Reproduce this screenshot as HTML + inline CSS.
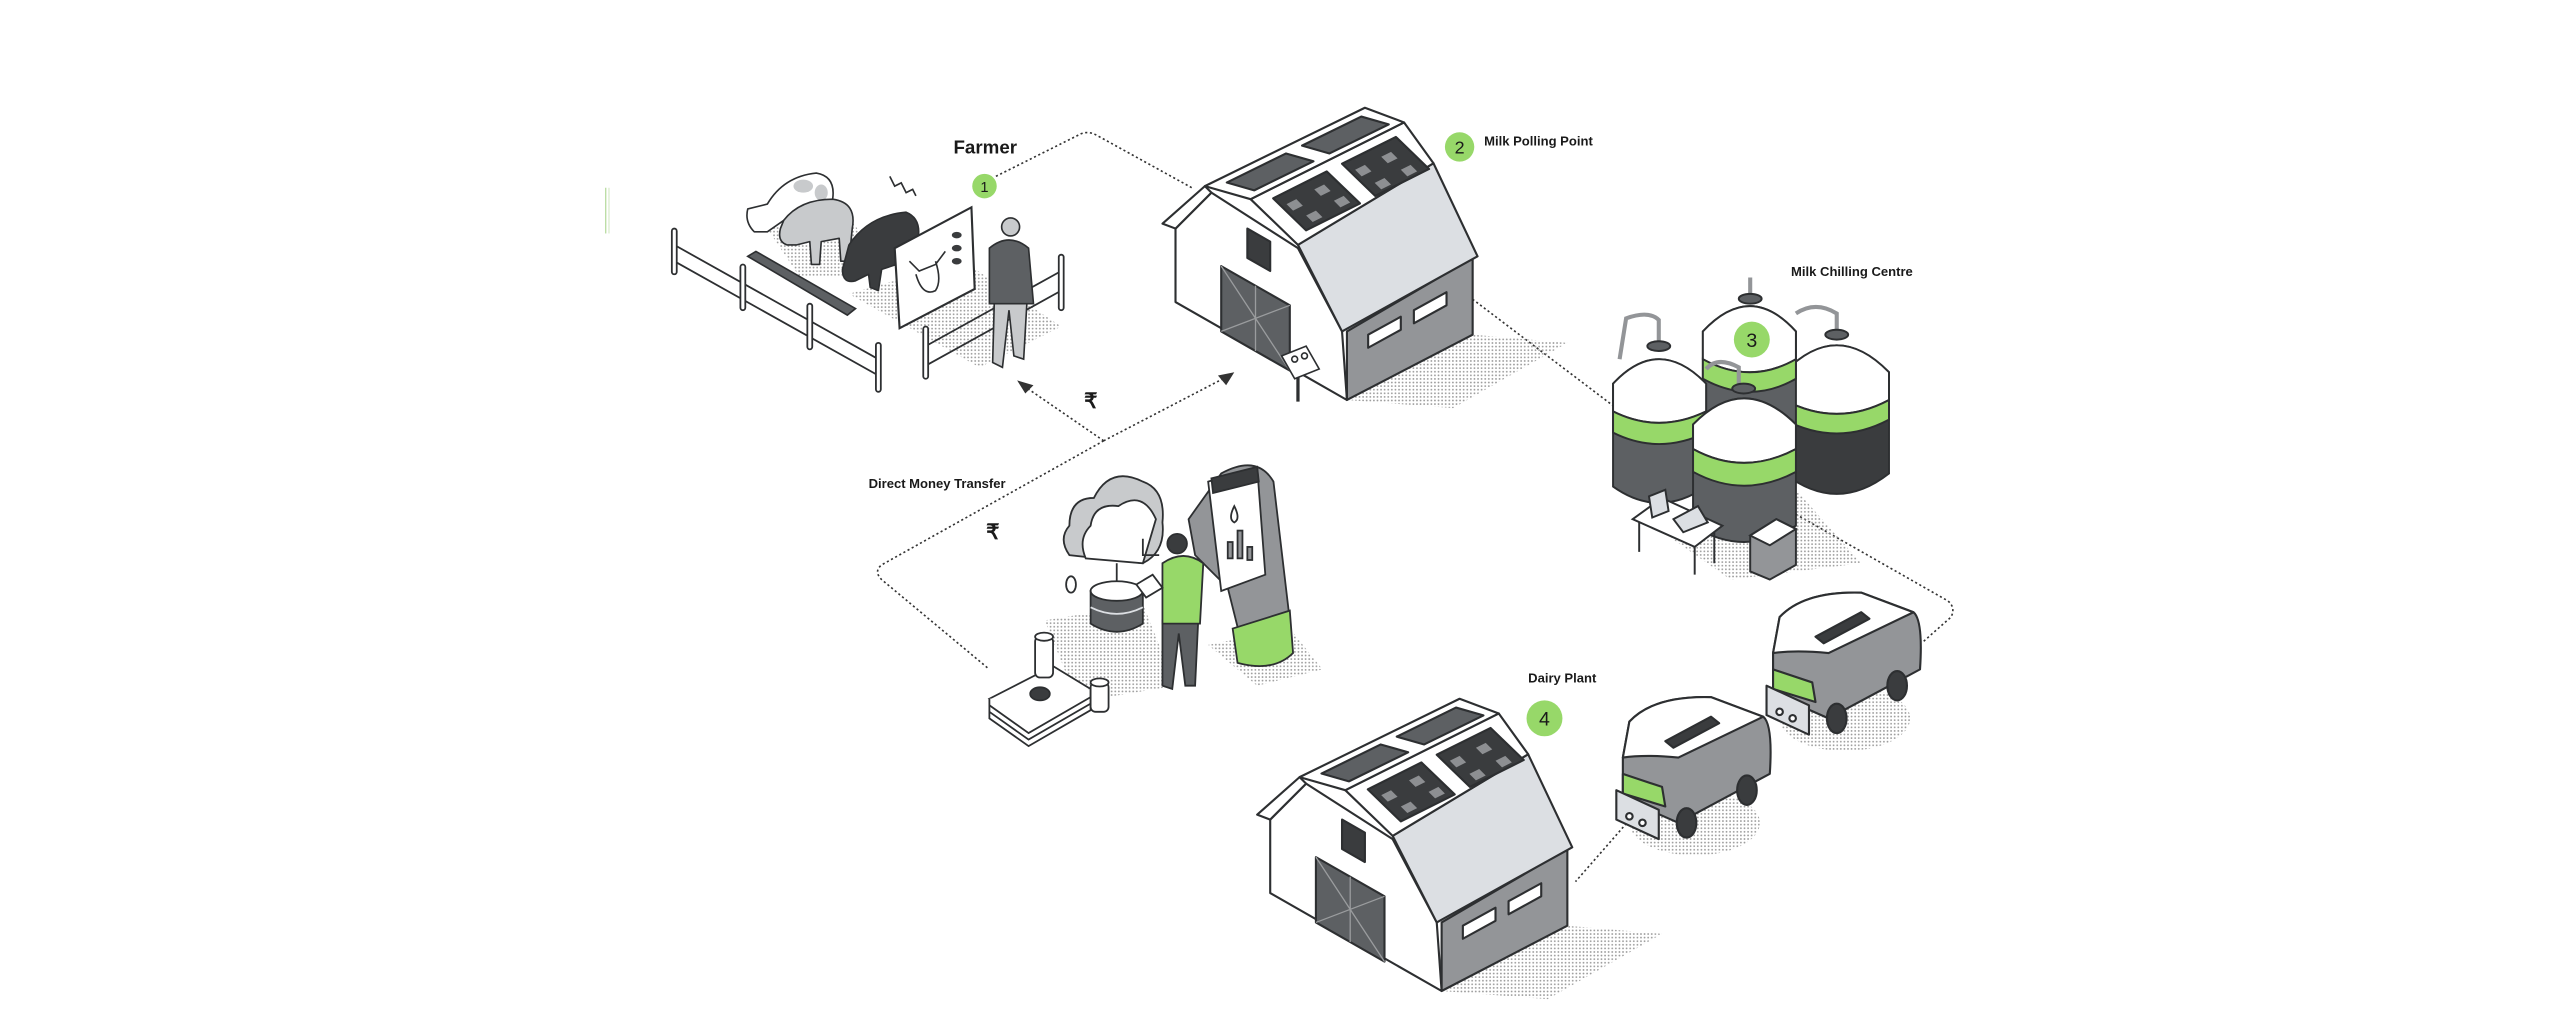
<!DOCTYPE html>
<html><head><meta charset="utf-8"><style>
html,body{margin:0;padding:0;background:#fff;width:2560px;height:1015px;overflow:hidden}
svg{display:block}
text{font-family:"Liberation Sans",sans-serif;fill:#1a1a1a}
</style></head><body>
<svg width="2560" height="1015" viewBox="0 0 1568 621.7" preserveAspectRatio="none" xmlns="http://www.w3.org/2000/svg">
<defs>
<pattern id="dots" width="2.2" height="2.2" patternUnits="userSpaceOnUse"><circle cx="1.1" cy="1.1" r="0.55" fill="#9a9a9a"/></pattern>
<g id="barn" stroke="#2d2f31" stroke-width="1.3" stroke-linejoin="round">
 <polygon points="825,245 902,205 960,210 890,250" fill="url(#dots)" stroke="none"/>
 <polygon points="720,140 742,118 795,152 822,203 825,245 720,185" fill="#fff"/>
 <polygon points="748,163 790,187 790,227 748,203" fill="#5d6063"/>
 <path d="M748,163 L790,227 M790,187 L748,203 M769,175 L769,215" stroke="#9a9c9e" stroke-width="0.8" fill="none"/>
 <polygon points="764,140 778,148 778,166 764,158" fill="#3a3c3e"/>
 <polygon points="825,203 902,158 902,205 825,245" fill="#939598"/>
 <polygon points="838,205 858,194 858,202 838,213" fill="#fff"/>
 <polygon points="866,190 886,179 886,187 866,198" fill="#fff"/>
 <polygon points="795,150 878,100 905,157 822,203" fill="#dcdfe3"/>
 <polygon points="766,122 860,75 878,100 795,150" fill="#fff"/>
 <polygon points="779.8,121.5 812.6,105 833,124.6 800,141.1" fill="#3a3c3e"/>
 <polygon points="822,100.3 855,83.9 875.3,103.5 842.3,120" fill="#3a3c3e"/>
 <path d="M788,125 l6,-3 4,4 -6,3z M805,116 l6,-3 4,4 -6,3z M800,132 l6,-3 4,4 -6,3z M817,123 l6,-3 4,4 -6,3z M830,104 l6,-3 4,4 -6,3z M846,96 l6,-3 4,4 -6,3z M842,112 l6,-3 4,4 -6,3z M858,104 l6,-3 4,4 -6,3z" fill="#8d8f92" stroke="none"/>
 <polygon points="738,114 836,66 860,75 766,122" fill="#fff"/>
 <polygon points="751.4,111.8 787.7,94 804.5,98.8 768.2,116.6" fill="#5d6063"/>
 <polygon points="797.5,89.2 833.8,71.4 850.6,76.2 814.3,94" fill="#5d6063"/>
 <polygon points="712,137 738,114 742,118 720,140" fill="#fff"/>
</g>
<g id="truck" stroke="#2d2f31" stroke-width="1.3" stroke-linejoin="round">
 <ellipse cx="1130" cy="440" rx="40" ry="20" fill="url(#dots)" stroke="none"/>
 <path d="M1086,400 L1090,378 Q1105,362 1140,363 L1172,375 Q1178,380 1176,410 L1120,440 L1086,425Z" fill="#939598"/>
 <path d="M1086,400 L1090,378 Q1105,362 1140,363 L1172,375 L1120,400 Q1100,398 1086,400Z" fill="#fff"/>
 <polygon points="1112,390 1140,375 1145,379 1117,394" fill="#3a3c3e"/>
 <polygon points="1086,410 1110,418 1112,430 1086,422" fill="#97d869"/>
 <polygon points="1082,420 1108,432 1108,450 1082,438" fill="#dcdfe3"/>
 <ellipse cx="1125" cy="440" rx="6" ry="9" fill="#3a3c3e"/>
 <ellipse cx="1162" cy="420" rx="6" ry="9" fill="#3a3c3e"/>
 <circle cx="1090" cy="436" r="2" fill="#fff"/><circle cx="1098" cy="440" r="2" fill="#fff"/>
</g>
</defs>

<line x1="371" y1="115" x2="371" y2="143" stroke="#b9dca0" stroke-width="0.8"/>
<line x1="373" y1="115" x2="373" y2="143" stroke="#cfe6bf" stroke-width="0.6"/>

<g fill="none" stroke="#333" stroke-width="1" stroke-dasharray="1.3 1.6">
 <path d="M610,108 L662,82 Q667,80 672,83 L730,115"/>
 <path d="M895,178 L990,250"/>
 <path d="M1100,315 L1193,368 Q1198,372 1195,378 L1178,393"/>
 <path d="M1000,500 L965,540"/>
 <path d="M676,270 L628,237"/>
 <path d="M676,270 L751,231"/>
 <path d="M676,270 L540,346 Q535,350 540,355 L606,410"/>
</g>
<polygon points="623,233 633,236 628,241" fill="#333"/>
<polygon points="756,228 746,230 751,236" fill="#333"/>

<polygon points="520,180 590,160 650,200 600,225" fill="url(#dots)"/>
<polygon points="470,140 520,130 540,170 490,170" fill="url(#dots)"/>
<g stroke="#2d2f31" stroke-width="1.1" fill="#fff">
 <path d="M413,150 L538,220 M413,160 L538,230 M567,212 L650,166 M567,224 L650,178" fill="none"/>
 <rect x="411.5" y="140" width="3" height="28" rx="1.5"/>
 <rect x="453.5" y="162" width="3" height="28" rx="1.5"/>
 <rect x="494.5" y="186" width="3" height="28" rx="1.5"/>
 <rect x="536.5" y="210" width="3" height="30" rx="1.5"/>
 <rect x="565.5" y="200" width="3" height="32" rx="1.5"/>
 <rect x="648.5" y="156" width="3" height="34" rx="1.5"/>
</g>
<polygon points="458,157 463,154 524,189 519,193" fill="#5d6063" stroke="#2d2f31" stroke-width="1"/>
<!-- cows -->
<g stroke="#2d2f31" stroke-width="1" stroke-linejoin="round">
 <path d="M470,125 Q480,108 500,106 Q512,108 510,122 L505,140 L498,142 L496,132 L480,135 L470,142 L462,142 Q456,136 458,128 Z" fill="#fff"/>
 <ellipse cx="492" cy="114" rx="6" ry="4" fill="#c8cacc" stroke="none"/>
 <ellipse cx="503" cy="118" rx="4" ry="5" fill="#c8cacc" stroke="none"/>
 <path d="M480,135 Q490,122 510,122 Q525,124 522,140 L520,160 L515,160 L514,146 L503,148 L502,162 L497,162 L496,148 L488,150 L482,150 Q476,148 478,140Z" fill="#c8cacc"/>
 <path d="M520,150 Q532,132 555,130 Q565,134 562,148 L555,175 L550,175 L549,162 L540,165 L538,178 L533,176 L532,168 L524,172 Q516,174 516,165Z" fill="#3a3c3e"/>
</g>
<polygon points="548,152 595,127 597,177 551,201" fill="#fff" stroke="#2d2f31" stroke-width="1.3"/>
<path d="M557,160 l6,6 l10,-4 l6,-8 M561,168 q4,14 12,10 q4,-6 0,-18" fill="none" stroke="#2d2f31" stroke-width="1"/>
<ellipse cx="586" cy="144" rx="3" ry="2" fill="#3a3c3e"/><ellipse cx="586" cy="152" rx="3" ry="2" fill="#3a3c3e"/><ellipse cx="586" cy="160" rx="3" ry="2" fill="#3a3c3e"/>
<path d="M545,108 l3,6 l4,-2 l3,6 l4,-2 l2,4" fill="none" stroke="#2d2f31" stroke-width="1"/>
<g stroke="#2d2f31" stroke-width="1">
 <path d="M609,185 L608,222 L614,225 L618,190 L621,218 L627,220 L629,185Z" fill="#c8cacc"/>
 <path d="M606,152 Q618,142 630,152 L633,186 L606,186Z" fill="#5d6063"/>
 <circle cx="619" cy="139" r="5.5" fill="#c8cacc"/>
</g>

<use href="#barn"/>
<g stroke="#2d2f31" stroke-width="1">
 <line x1="795" y1="230" x2="795" y2="246" stroke-width="2"/>
 <polygon points="785,218 800,212 808,226 793,232" fill="#fff"/>
 <circle cx="793" cy="220" r="1.8" fill="#fff"/><circle cx="799" cy="218" r="1.8" fill="#fff"/>
</g>

<polygon points="1010,320 1100,300 1140,345 1060,355" fill="url(#dots)"/>
<g stroke="#2d2f31" stroke-width="1.2">
 <path d="M1093,228 Q1125,195 1157,228 L1157,290 Q1125,315 1093,290Z" fill="#3a3c3e"/>
 <path d="M1093,228 Q1125,195 1157,228 L1157,245 Q1125,262 1093,245Z" fill="#fff"/>
 <path d="M1093,245 Q1125,262 1157,245 L1157,257 Q1125,274 1093,257Z" fill="#97d869"/>
 <path d="M1043,203 Q1072,172 1100,203 L1100,280 L1043,280Z" fill="#5d6063"/>
 <path d="M1043,203 Q1072,172 1100,203 L1100,220 Q1072,236 1043,220Z" fill="#fff"/>
 <path d="M1043,220 Q1072,236 1100,220 L1100,232 Q1072,248 1043,232Z" fill="#97d869"/>
 <path d="M988,235 Q1016,205 1045,235 L1045,298 Q1016,318 988,298Z" fill="#5d6063"/>
 <path d="M988,235 Q1016,205 1045,235 L1045,252 Q1016,266 988,252Z" fill="#fff"/>
 <path d="M988,252 Q1016,266 1045,252 L1045,265 Q1016,279 988,265Z" fill="#97d869"/>
 <path d="M1037,260 Q1068,228 1100,260 L1100,322 Q1068,342 1037,322Z" fill="#5d6063"/>
 <path d="M1037,260 Q1068,228 1100,260 L1100,275 Q1068,292 1037,275Z" fill="#fff"/>
 <path d="M1037,275 Q1068,292 1100,275 L1100,289 Q1068,306 1037,289Z" fill="#97d869"/>
 <path d="M1016,212 L1016,196 Q1010,190 996,195 L992,220 M1072,183 L1072,170 M1125,205 L1125,192 Q1112,184 1100,192 M1065,240 L1065,225 Q1052,218 1045,226" fill="none" stroke-width="2.5" stroke="#939598"/>
 <ellipse cx="1016" cy="212" rx="7" ry="3" fill="#5d6063"/>
 <ellipse cx="1072" cy="183" rx="7" ry="3" fill="#5d6063"/>
 <ellipse cx="1125" cy="205" rx="7" ry="3" fill="#5d6063"/>
 <ellipse cx="1068" cy="238" rx="7" ry="3" fill="#5d6063"/>
 <polygon points="1000,318 1018,305 1055,322 1038,335" fill="#fff"/>
 <path d="M1004,320 L1004,338 M1038,335 L1038,352 M1050,326 L1050,345" fill="none"/>
 <polygon points="1010,304 1020,300 1022,313 1012,317" fill="#dcdfe3"/>
 <polygon points="1025,318 1040,310 1046,320 1031,326" fill="#dcdfe3"/>
 <polygon points="1072,328 1088,318 1100,324 1100,346 1084,355 1072,350" fill="#939598"/>
 <polygon points="1072,328 1088,318 1100,324 1084,334" fill="#fff"/>
</g>
<circle cx="1073" cy="208" r="11" fill="#97d869"/>
<text x="1073" y="212.5" font-size="12" text-anchor="middle">3</text>

<use href="#truck"/>
<use href="#truck" transform="translate(-92,64)"/>

<use href="#barn" transform="translate(58,362)"/>

<polygon points="640,380 700,370 720,420 660,430" fill="url(#dots)"/>
<polygon points="740,395 790,385 810,410 770,420" fill="url(#dots)"/>
<g stroke="#2d2f31" stroke-width="1.1">
 <path d="M748,290 Q770,278 780,295 L790,380 L760,392 L752,360 L732,340 L728,318 Z" fill="#939598"/>
 <path d="M755,385 L790,374 L792,400 Q780,412 758,406Z" fill="#97d869"/>
 <polygon points="740,295 770,286 775,352 748,362" fill="#fff"/>
 <path d="M742,293 L770,286 L771,295 L743,302Z" fill="#3a3c3e"/>
 <path d="M756,310 q-4,8 0,10 q4,-2 0,-10z" fill="#fff"/>
 <rect x="752" y="332" width="3" height="10" fill="#939598"/><rect x="758" y="325" width="3" height="17" fill="#939598"/><rect x="764" y="335" width="3" height="8" fill="#939598"/>
 <path d="M655,340 Q648,330 655,322 Q655,305 670,305 Q680,285 700,295 Q714,300 712,320 Q714,338 700,345 Z" fill="#c8cacc"/>
 <path d="M665,342 Q660,330 668,322 Q670,308 685,310 Q700,300 708,318 L700,345Z" fill="#fff"/>
 <path d="M684,345 L684,360 M700,330 L700,340 L710,340" fill="none"/>
 <ellipse cx="656" cy="358" rx="3" ry="5" fill="#fff"/>
 <path d="M668,362 L668,382 Q684,392 700,382 L700,362Z" fill="#5d6063"/>
 <path d="M668,372 Q684,380 700,372" fill="none" stroke="#dcdfe3"/>
 <ellipse cx="684" cy="362" rx="16" ry="6" fill="#fff"/>
 <path d="M712,380 L712,420 L718,422 L722,388 L726,420 L732,420 L734,378Z" fill="#5d6063"/>
 <path d="M712,345 Q725,336 737,345 L735,382 L712,382Z" fill="#97d869"/>
 <circle cx="721" cy="333" r="6" fill="#3a3c3e"/>
 <polygon points="696,358 706,352 712,360 702,366" fill="#fff"/>
 <polygon points="606,428 645,408 668,422 630,445" fill="#fff"/>
 <path d="M606,428 L606,440 L630,457 L668,435 L668,422" fill="#fff"/>
 <path d="M606,432 L630,449 L668,427 M606,436 L630,453 L668,431" fill="none"/>
 <ellipse cx="637" cy="425" rx="6" ry="4" fill="#3a3c3e"/>
 <rect x="634" y="390" width="11" height="25" rx="3" fill="#fff"/>
 <ellipse cx="639.5" cy="390" rx="5.5" ry="2.5" fill="#fff"/>
 <rect x="668" y="418" width="11" height="18" rx="3" fill="#fff"/>
 <ellipse cx="673.5" cy="418" rx="5.5" ry="2.5" fill="#fff"/>
</g>

<circle cx="603" cy="114" r="7.5" fill="#97d869"/>
<text x="603" y="117.5" font-size="9" text-anchor="middle">1</text>
<circle cx="894" cy="90" r="9" fill="#97d869"/>
<text x="894" y="94" font-size="11" text-anchor="middle">2</text>
<circle cx="946" cy="440" r="11" fill="#97d869"/>
<text x="946" y="444.5" font-size="12" text-anchor="middle">4</text>
<text x="584" y="94" font-size="11.5" font-weight="bold">Farmer</text>
<text x="909" y="89" font-size="8" font-weight="bold">Milk Polling Point</text>
<text x="1097" y="169" font-size="8" font-weight="bold">Milk Chilling Centre</text>
<text x="936" y="418" font-size="8" font-weight="bold">Dairy Plant</text>
<text x="532" y="299" font-size="8" font-weight="bold">Direct Money Transfer</text>
<text x="664" y="250" font-size="13" font-weight="bold">₹</text>
<text x="604" y="330" font-size="13" font-weight="bold">₹</text>
</svg>
</body></html>
